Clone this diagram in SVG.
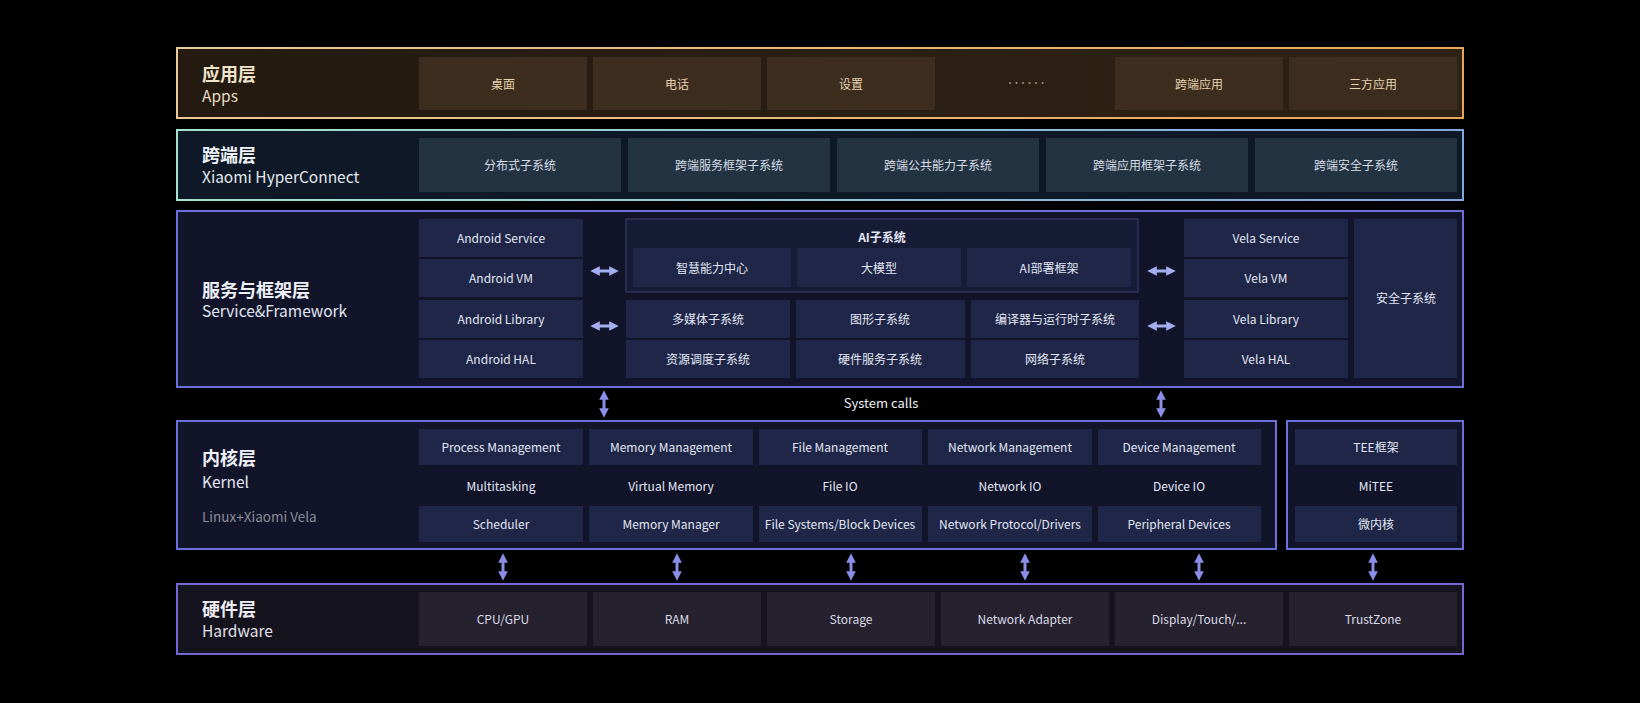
<svg xmlns="http://www.w3.org/2000/svg" width="1640" height="703" viewBox="0 0 1640 703">
<defs>
<linearGradient id="gApps" x1="0" y1="0" x2="1" y2="0">
<stop offset="0" stop-color="#241a10"/><stop offset="1" stop-color="#2e2214"/>
</linearGradient>
<linearGradient id="bApps" x1="0" y1="0" x2="1" y2="0">
<stop offset="0" stop-color="#eacb98"/><stop offset="1" stop-color="#e6a659"/>
</linearGradient>
<linearGradient id="bHc" x1="0" y1="0" x2="1" y2="0">
<stop offset="0" stop-color="#a4e2cc"/><stop offset="1" stop-color="#80a6dc"/>
</linearGradient>
<marker id="ah" viewBox="0 0 10 10" refX="5" refY="5" markerWidth="3.2" markerHeight="3.2" orient="auto-start-reverse">
<path d="M0,0 L10,5 L0,10 z" fill="#8a8ee6"/>
</marker>
<marker id="ahL" viewBox="0 0 10 10" refX="5" refY="5" markerWidth="3.2" markerHeight="3.2" orient="auto-start-reverse">
<path d="M0,0 L10,5 L0,10 z" fill="#a4aef0"/>
</marker>
</defs>
<style>
text{font-family:"Noto Sans CJK SC","Noto Sans","Liberation Sans",sans-serif;text-anchor:middle;dominant-baseline:central;transform:translate(0px,-1px)}
.t1{font-size:18px;font-weight:700;text-anchor:start}
.t2{font-size:15.5px;text-anchor:start;transform:translate(0px,-2px)}
.app{fill:#3c2d1f}
.appt{fill:#e6d2ad;font-size:12px}
.hc{fill:#243342}
.hct{fill:#d6dde6;font-size:12px}
.sv{fill:#1f2648}
.svt{fill:#e2e6f4;font-size:12px}
.hw{fill:#25212f}
.hwt{fill:#dcdae6;font-size:12px}
.lay{stroke-width:2}
.v{stroke:#8a8ee6;stroke-width:3;fill:none;marker-start:url(#ah);marker-end:url(#ah)}
.h{stroke:#a4aef0;stroke-width:3;fill:none;marker-start:url(#ahL);marker-end:url(#ahL)}
</style>
<rect width="1640" height="703" fill="#000"/>

<g id="apps">
<rect class="lay" x="177" y="48" width="1286" height="70" fill="url(#gApps)" stroke="url(#bApps)"/>
<text class="t1" x="202" y="74" fill="#f0e4cc">应用层</text>
<text class="t2" x="202" y="97" fill="#e8dcc4">Apps</text>
<rect class="app" x="419" y="57" width="168" height="53"/><text class="appt" x="503" y="84">桌面</text>
<rect class="app" x="593" y="57" width="168" height="53"/><text class="appt" x="677" y="84">电话</text>
<rect class="app" x="767" y="57" width="168" height="53"/><text class="appt" x="851" y="84">设置</text>
<text x="1025" y="83" fill="#9c8c7a" style="font-size:9px;letter-spacing:-2.5px">······</text>
<rect class="app" x="1115" y="57" width="168" height="53"/><text class="appt" x="1199" y="84">跨端应用</text>
<rect class="app" x="1289" y="57" width="168" height="53"/><text class="appt" x="1373" y="84">三方应用</text>
</g>

<g id="hyperconnect">
<rect class="lay" x="177" y="130" width="1286" height="70" fill="#0e1826" stroke="url(#bHc)"/>
<text class="t1" x="202" y="155" fill="#eef2f6">跨端层</text>
<text class="t2" x="202" y="178" fill="#e4e8ee">Xiaomi HyperConnect</text>
<rect class="hc" x="419" y="138" width="202" height="54"/><text class="hct" x="520" y="165">分布式子系统</text>
<rect class="hc" x="628" y="138" width="202" height="54"/><text class="hct" x="729" y="165">跨端服务框架子系统</text>
<rect class="hc" x="837" y="138" width="202" height="54"/><text class="hct" x="938" y="165">跨端公共能力子系统</text>
<rect class="hc" x="1046" y="138" width="202" height="54"/><text class="hct" x="1147" y="165">跨端应用框架子系统</text>
<rect class="hc" x="1255" y="138" width="202" height="54"/><text class="hct" x="1356" y="165">跨端安全子系统</text>
</g>

<g id="service">
<rect class="lay" x="177" y="211" width="1286" height="176" fill="#12152a" stroke="#6b6fdc"/>
<text class="t1" x="202" y="290" fill="#eef0f8">服务与框架层</text>
<text class="t2" x="202" y="312" fill="#e2e6f2">Service&amp;Framework</text>
<rect class="sv" x="419" y="219" width="164" height="38"/><text class="svt" x="501" y="238">Android Service</text>
<rect class="sv" x="419" y="259" width="164" height="38"/><text class="svt" x="501" y="278">Android VM</text>
<rect class="sv" x="419" y="300" width="164" height="38"/><text class="svt" x="501" y="319">Android Library</text>
<rect class="sv" x="419" y="340" width="164" height="38"/><text class="svt" x="501" y="359">Android HAL</text>
<rect x="626" y="219" width="512" height="73" fill="#171c36" stroke="#3a4070" stroke-width="1"/>
<text class="svt" x="882" y="237" font-weight="700">AI子系统</text>
<rect class="sv" x="633" y="248" width="158" height="39" fill="#222a50"/><text class="svt" x="712" y="268">智慧能力中心</text>
<rect class="sv" x="797" y="248" width="164" height="39" fill="#222a50"/><text class="svt" x="879" y="268">大模型</text>
<rect class="sv" x="967" y="248" width="164" height="39" fill="#222a50"/><text class="svt" x="1049" y="268">AI部署框架</text>
<rect class="sv" x="626" y="300" width="164" height="38"/><text class="svt" x="708" y="319">多媒体子系统</text>
<rect class="sv" x="796" y="300" width="169" height="38"/><text class="svt" x="880" y="319">图形子系统</text>
<rect class="sv" x="971" y="300" width="168" height="38"/><text class="svt" x="1055" y="319">编译器与运行时子系统</text>
<rect class="sv" x="626" y="340" width="164" height="38"/><text class="svt" x="708" y="359">资源调度子系统</text>
<rect class="sv" x="796" y="340" width="169" height="38"/><text class="svt" x="880" y="359">硬件服务子系统</text>
<rect class="sv" x="971" y="340" width="168" height="38"/><text class="svt" x="1055" y="359">网络子系统</text>
<rect class="sv" x="1184" y="219" width="164" height="38"/><text class="svt" x="1266" y="238">Vela Service</text>
<rect class="sv" x="1184" y="259" width="164" height="38"/><text class="svt" x="1266" y="278">Vela VM</text>
<rect class="sv" x="1184" y="300" width="164" height="38"/><text class="svt" x="1266" y="319">Vela Library</text>
<rect class="sv" x="1184" y="340" width="164" height="38"/><text class="svt" x="1266" y="359">Vela HAL</text>
<rect class="sv" x="1354" y="219" width="103" height="159"/><text class="svt" x="1406" y="298">安全子系统</text>
</g>

<g id="kernel">
<rect class="lay" x="177" y="421" width="1099" height="128" fill="#12152a" stroke="#6b6fdc"/>
<text class="t1" x="202" y="458" fill="#eef0f8">内核层</text>
<text class="t2" x="202" y="483" fill="#e2e6f2">Kernel</text>
<text x="202" y="517" fill="#8a8c98" style="font-size:13.5px;text-anchor:start">Linux+Xiaomi Vela</text>
<rect class="sv" x="419" y="429" width="164" height="36"/><text class="svt" x="501" y="447">Process Management</text>
<rect class="sv" x="589" y="429" width="164" height="36"/><text class="svt" x="671" y="447">Memory Management</text>
<rect class="sv" x="759" y="429" width="163" height="36"/><text class="svt" x="840" y="447">File Management</text>
<rect class="sv" x="928" y="429" width="164" height="36"/><text class="svt" x="1010" y="447">Network Management</text>
<rect class="sv" x="1098" y="429" width="163" height="36"/><text class="svt" x="1179" y="447">Device Management</text>
<text class="svt" x="501" y="486">Multitasking</text>
<text class="svt" x="671" y="486">Virtual Memory</text>
<text class="svt" x="840" y="486">File IO</text>
<text class="svt" x="1010" y="486">Network IO</text>
<text class="svt" x="1179" y="486">Device IO</text>
<rect class="sv" x="419" y="506" width="164" height="36"/><text class="svt" x="501" y="524">Scheduler</text>
<rect class="sv" x="589" y="506" width="164" height="36"/><text class="svt" x="671" y="524">Memory Manager</text>
<rect class="sv" x="759" y="506" width="163" height="36"/><text class="svt" x="840" y="524">File Systems/Block Devices</text>
<rect class="sv" x="928" y="506" width="164" height="36"/><text class="svt" x="1010" y="524">Network Protocol/Drivers</text>
<rect class="sv" x="1098" y="506" width="163" height="36"/><text class="svt" x="1179" y="524">Peripheral Devices</text>
</g>

<g id="tee">
<rect class="lay" x="1287" y="421" width="176" height="128" fill="#12152a" stroke="#6b6fdc"/>
<rect class="sv" x="1295" y="429" width="162" height="36"/><text class="svt" x="1376" y="447">TEE框架</text>
<text class="svt" x="1376" y="486">MiTEE</text>
<rect class="sv" x="1295" y="506" width="162" height="36"/><text class="svt" x="1376" y="524">微内核</text>
</g>

<g id="hardware">
<rect class="lay" x="177" y="584" width="1286" height="70" fill="#15131d" stroke="#7467d4"/>
<text class="t1" x="202" y="609" fill="#eeecf4">硬件层</text>
<text class="t2" x="202" y="632" fill="#e2e0ea">Hardware</text>
<rect class="hw" x="419" y="592" width="168" height="54"/><text class="hwt" x="503" y="619">CPU/GPU</text>
<rect class="hw" x="593" y="592" width="168" height="54"/><text class="hwt" x="677" y="619">RAM</text>
<rect class="hw" x="767" y="592" width="168" height="54"/><text class="hwt" x="851" y="619">Storage</text>
<rect class="hw" x="941" y="592" width="168" height="54"/><text class="hwt" x="1025" y="619">Network Adapter</text>
<rect class="hw" x="1115" y="592" width="168" height="54"/><text class="hwt" x="1199" y="619">Display/Touch/...</text>
<rect class="hw" x="1289" y="592" width="168" height="54"/><text class="hwt" x="1373" y="619">TrustZone</text>
</g>

<g id="connectors">
<line class="h" x1="595" y1="271" x2="614" y2="271"/>
<line class="h" x1="595" y1="326" x2="614" y2="326"/>
<line class="h" x1="1152" y1="271" x2="1171" y2="271"/>
<line class="h" x1="1152" y1="326" x2="1171" y2="326"/>
<line class="v" x1="604" y1="395" x2="604" y2="413"/>
<line class="v" x1="1161" y1="395" x2="1161" y2="413"/>
<text x="881" y="403" fill="#eef0f8" style="font-size:13px">System calls</text>
<line class="v" x1="503" y1="558" x2="503" y2="576"/>
<line class="v" x1="677" y1="558" x2="677" y2="576"/>
<line class="v" x1="851" y1="558" x2="851" y2="576"/>
<line class="v" x1="1025" y1="558" x2="1025" y2="576"/>
<line class="v" x1="1199" y1="558" x2="1199" y2="576"/>
<line class="v" x1="1373" y1="558" x2="1373" y2="576"/>
</g>
</svg>
